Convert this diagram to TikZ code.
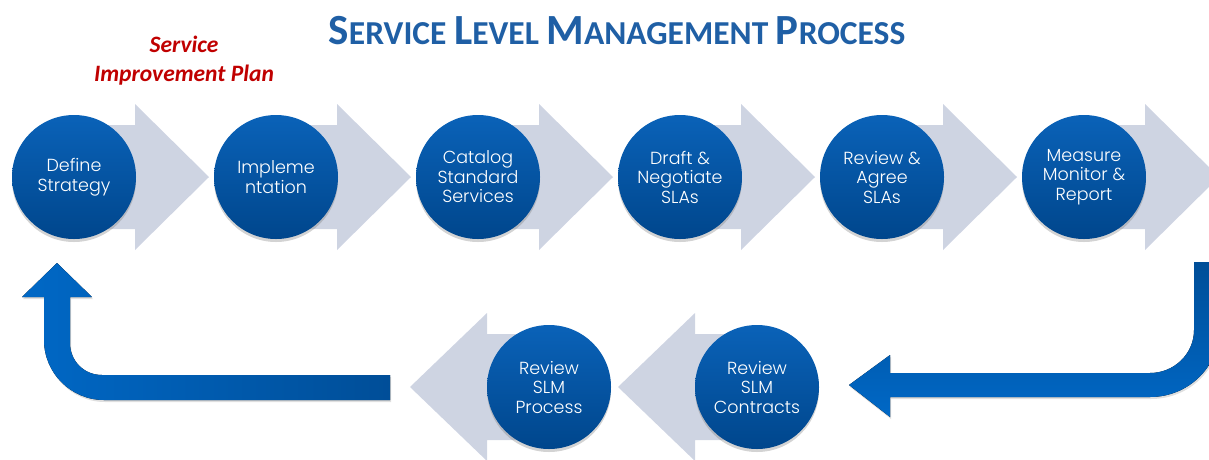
\documentclass[tikz,border=0pt]{standalone}
\usepackage{fontspec}
\usetikzlibrary{positioning,shadows,backgrounds}
\newfontfamily\calibri{Carlito}
\newfontfamily\gothic{Poppins Light}
\definecolor{circtop}{RGB}{10,98,184}
\definecolor{circbot}{RGB}{0,70,140}
\definecolor{arrowgrey}{RGB}{206,212,226}
\definecolor{bluelight}{RGB}{0,104,198}
\definecolor{bluedark}{RGB}{0,78,152}
\definecolor{titleblue}{RGB}{31,95,165}
\definecolor{sipred}{RGB}{192,0,0}
\newcommand\titlesc[2]{{\fontsize{43}{43}\selectfont #1}#2}

\begin{document}
\begin{tikzpicture}[x=1pt, y=-1pt,
  stage/.style={circle, minimum size=124pt, inner sep=0pt,
    top color=circtop, bottom color=circbot, text=white, align=center,
    font=\gothic\fontsize{17.5}{19.5}\selectfont,
    drop shadow={shadow xshift=0pt, shadow yshift=-3pt, opacity=0.35}},
  greyarrow/.style={fill=arrowgrey},
  bluearrow/.style={drop shadow={shadow xshift=1pt, shadow yshift=-2pt, opacity=0.25}},
  on grid, node distance=202pt]
 \useasboundingbox (0,0) rectangle (1209,459);
 % title
 \node[text=titleblue, font=\calibri\bfseries\fontsize{33.5}{33.5}\selectfont] (title) at (617,31)
  {\titlesc{S}{ERVICE} \titlesc{L}{EVEL} \titlesc{M}{ANAGEMENT} \titlesc{P}{ROCESS}};
 \node[text=sipred, font=\calibri\bfseries\itshape\fontsize{23.5}{29}\selectfont, align=center] (sip) at (184,61)
  {Service\\Improvement Plan};
 % top row
 \node[stage] (define) at (74,177) {Define\\Strategy};
 \node[stage, right=of define] (implement) {Impleme\\ntation};
 \node[stage, right=of implement] (catalog) {Catalog\\Standard\\Services};
 \node[stage, right=of catalog] (draft) {Draft \&\\Negotiate\\SLAs};
 \node[stage, right=of draft] (agree) {Review \&\\Agree\\SLAs};
 \node[stage, right=of agree] (measure) {Measure\\Monitor \&\\Report};
 % bottom row
 \node[stage] (contracts) at (757,387) {Review\\SLM\\Contracts};
 \node[stage, left=208pt of contracts] (slmprocess) {Review\\SLM\\Process};
 \begin{scope}[on background layer]
  \foreach \s in {define,implement,catalog,draft,agree,measure}
   \fill[greyarrow, shift={(\s)}] (0,-52) -- (61,-52) -- (61,-73) -- (135,0)
    -- (61,73) -- (61,52) -- (0,52) -- cycle;
  \foreach \s in {slmprocess,contracts}
   \fill[greyarrow, shift={(\s)}] (0,-53) -- (-62,-53) -- (-62,-74) -- (-139,0)
    -- (-62,74) -- (-62,53) -- (0,53) -- cycle;
 \end{scope}
 % return arrows
 \fill[bluearrow, top color=bluedark, bottom color=bluelight]
  (1194,262) -- (1194,330) .. controls (1194,354) and (1174,373) .. (1150,373)
  -- (890,373) -- (890,355) -- (849,385) -- (890,417) -- (890,397) -- (1150,397)
  .. controls (1189,397) and (1220,366) .. (1220,327) -- (1220,262) -- cycle;
 \fill[bluearrow, left color=bluelight, right color=bluedark]
  (390,375) -- (102,375) .. controls (84,375) and (70,361) .. (70,343)
  -- (70,297) -- (92,297) -- (57,263) -- (22,297) -- (44,297) -- (44,340)
  .. controls (44,373) and (71,400) .. (104,400) -- (390,400) -- cycle;
\end{tikzpicture}
\end{document}
